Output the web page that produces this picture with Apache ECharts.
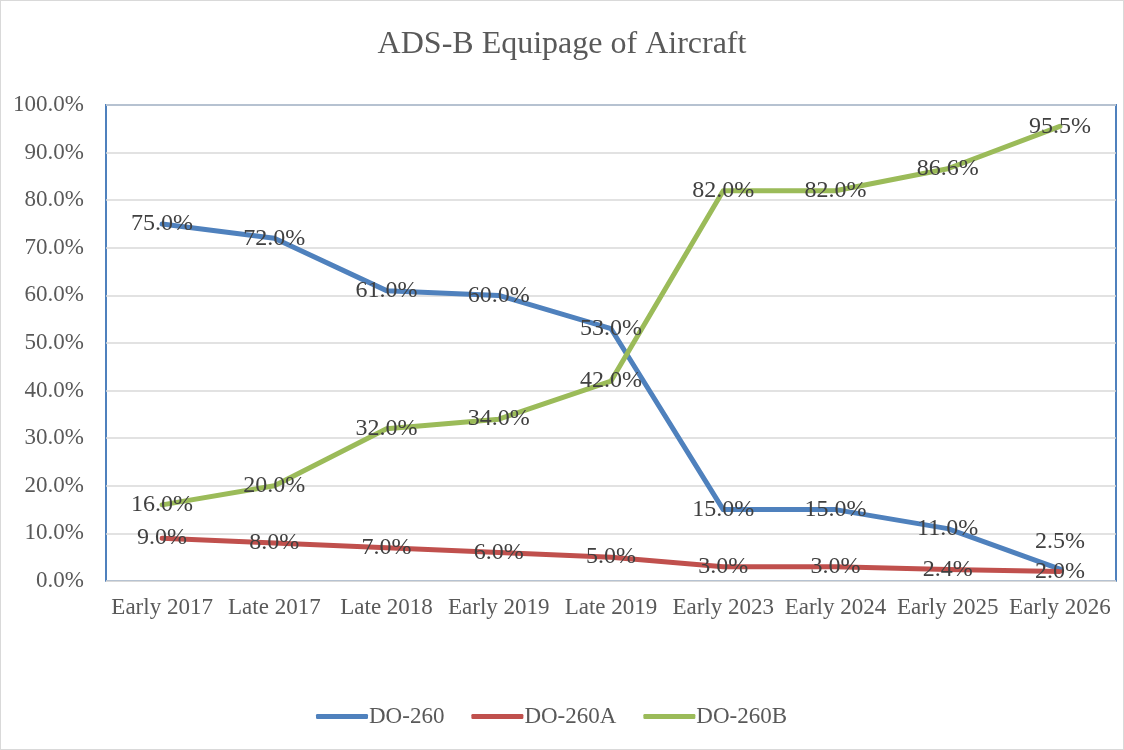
<!DOCTYPE html>
<html>
<head>
<meta charset="utf-8">
<script src="https://cdn.jsdelivr.net/npm/echarts@6/dist/echarts.min.js"></script>
<style>
  html, body { margin: 0; padding: 0; background: #fff; }
  #chart { position: absolute; left: 0; top: 0; width: 1122px; height: 748px; border: 1px solid #d9d9d9; }
</style>
</head>
<body>
<div id="chart"></div>
<script>
// data
var categories = ['Early 2017', 'Late 2017', 'Late 2018', 'Early 2019', 'Late 2019',
  'Early 2023', 'Early 2024', 'Early 2025', 'Early 2026']
var do260 = [75.0, 72.0, 61.0, 60.0, 53.0, 15.0, 15.0, 11.0, 2.5]
var do260A = [9.0, 8.0, 7.0, 6.0, 5.0, 3.0, 3.0, 2.4, 2.0]
var do260B = [16.0, 20.0, 32.0, 34.0, 42.0, 82.0, 82.0, 86.6, 95.5]

var font = '"Liberation Serif", "Times New Roman", serif'

function makeSeries(name, values, color) {
  return {
    name: name,
    type: 'line',
    data: values,
    symbol: 'circle',
    symbolSize: 1,
    showSymbol: true,
    lineStyle: { color: color, width: 5, cap: 'round', join: 'round' },
    itemStyle: { color: color },
    label: {
      show: true,
      position: 'inside',
      fontFamily: font,
      fontSize: 24,
      color: '#404040',
      formatter: function (p) { return p.value.toFixed(1) + '%' }
    },
    labelLayout: { hideOverlap: false },
    emphasis: { disabled: true },
    z: 2
  }
}

var chart = echarts.init(document.getElementById('chart'))
var s260 = makeSeries('DO-260', do260, '#4f81bd')
// last blue label sits above its point
s260.labelLayout = function (p) {
  if (p.dataIndex === do260.length - 1) {
    return { dy: -27, hideOverlap: false }
  }
  return { hideOverlap: false }
}

var option = {
  animation: false,
  title: {
    text: 'ADS-B Equipage of Aircraft',
    left: 'center',
    top: 23,
    textStyle: { fontFamily: font, fontSize: 32, fontWeight: 'normal', color: '#595959' }
  },
  legend: {
    bottom: 16,
    left: 310,
    itemWidth: 52,
    itemHeight: 5,
    itemGap: 27,
    icon: 'roundRect',
    textStyle: { fontFamily: font, fontSize: 23, color: '#595959', padding: [0, 0, 0, -4] },
    data: ['DO-260', 'DO-260A', 'DO-260B']
  },
  grid: {
    left: 105,
    right: 7,
    top: 104,
    bottom: 168,
    show: true,
    borderColor: '#4f81bd',
    borderWidth: 2
  },
  xAxis: {
    type: 'category',
    data: categories,
    boundaryGap: true,
    axisLine: { lineStyle: { color: '#d9d9d9', width: 1 } },
    axisTick: { show: false },
    axisLabel: { fontFamily: font, fontSize: 23, color: '#595959', margin: 15, interval: 0 }
  },
  yAxis: {
    type: 'value',
    min: 0,
    max: 100,
    interval: 10,
    axisLine: { show: false },
    axisTick: { show: false },
    splitLine: { lineStyle: { color: '#d9d9d9', width: 1.5 } },
    axisLabel: {
      fontFamily: font,
      fontSize: 23,
      color: '#595959',
      margin: 22,
      formatter: function (v) { return v.toFixed(1) + '%' }
    }
  },
  series: [
    s260,
    makeSeries('DO-260A', do260A, '#c0504d'),
    makeSeries('DO-260B', do260B, '#9bbb59')
  ]
}
chart.setOption(option)
</script>
</body>
</html>
